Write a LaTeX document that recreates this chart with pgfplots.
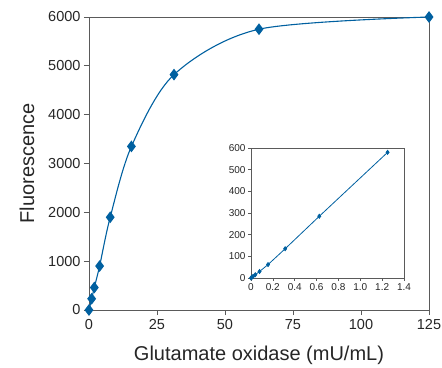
\documentclass[border=0pt]{standalone}
\usepackage{pgfplots}
\pgfplotsset{compat=1.18}
\usepackage{fontspec}
\setmainfont{Liberation Sans}
\definecolor{cblue}{RGB}{0,96,160}
\definecolor{axgray}{RGB}{90,90,90}
\begin{document}
\begin{tikzpicture}
\useasboundingbox (-89pt,-57pt) rectangle (353pt,310pt);
\begin{axis}[
  at={(0pt,0pt)}, anchor=origin,
  scale only axis, width=340pt, height=293pt,
  xmin=0, xmax=125, ymin=0, ymax=6000,
  xtick={0,25,50,75,100,125}, ytick={0,1000,2000,3000,4000,5000,6000},
  tick align=outside, tick pos=left,
  axis line style={axgray, line width=0.9pt},
  major tick style={axgray, line width=0.8pt},
  major tick length=5pt,
  clip=false,
  /pgf/number format/assume math mode=true,
  /pgf/number format/1000 sep={},
  tick label style={font=\fontsize{14.5}{16}\selectfont, text=black!85},
  xticklabel style={yshift=-1pt},
  xlabel={Glutamate oxidase (mU/mL)},
  ylabel={Fluorescence},
  label style={font=\fontsize{20}{22}\selectfont, text=black!85},
  xlabel style={yshift=-9pt},
  ylabel style={yshift=7pt},
]
\addplot[cblue, line width=1.1pt, smooth, tension=0.5, mark=diamond*, mark size=5pt, mark options={fill=cblue, draw=cblue}]
coordinates {(0,0) (0.98,230) (1.95,460) (3.9,900) (7.8,1900) (15.6,3350) (31.25,4820) (62.5,5750) (125,6000)};
\end{axis}
\begin{axis}[
  at={(162pt,32pt)}, anchor=origin,
  scale only axis, width=153pt, height=130pt,
  xmin=0, xmax=1.4, ymin=0, ymax=600,
  xtick={0,0.2,0.4,0.6,0.8,1.0,1.2,1.4}, ytick={0,100,200,300,400,500,600},
  xticklabels={0,0.2,0.4,0.6,0.8,1.0,1.2,1.4},
  tick align=outside, tick pos=left,
  axis line style={axgray, line width=0.7pt},
  major tick style={axgray, line width=0.6pt},
  major tick length=3pt,
  clip=false,
  /pgf/number format/assume math mode=true,
  tick label style={font=\fontsize{10}{11}\selectfont, text=black!85},
  xticklabel style={yshift=1pt},
  yticklabel style={xshift=1pt},
]
\addplot[cblue, line width=0.8pt, mark=diamond*, mark size=2pt, mark options={fill=cblue, draw=cblue}]
coordinates {(0,0) (0.0098,4) (0.0195,8) (0.039,15) (0.078,30) (0.156,62) (0.3125,135) (0.625,285) (1.25,580)};
\end{axis}
\end{tikzpicture}
\end{document}
